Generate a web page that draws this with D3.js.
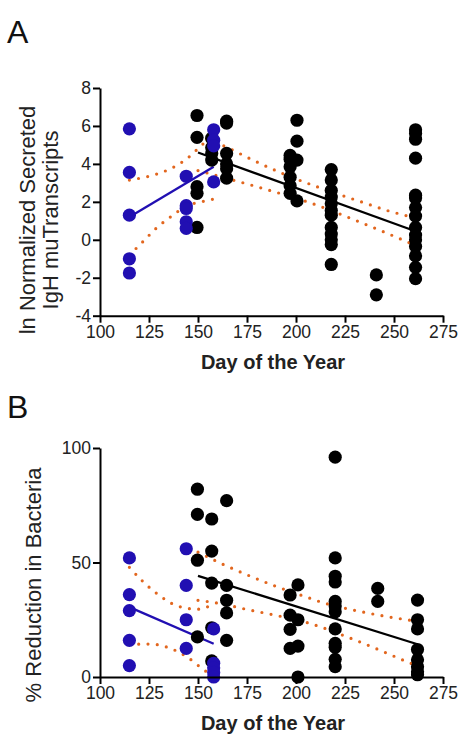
<!DOCTYPE html>
<html lang="en">
<head>
<meta charset="UTF-8" />
<title>IgH mu transcripts and bacterial killing by day of the year</title>
<script src="https://d3js.org/d3.v7.min.js"></script>
<style>
  body { margin: 0; background: #fff; }
  svg { display: block; font-family: Arial, "Liberation Sans", sans-serif; }
</style>
</head>
<body>
<svg id="chart" width="460" height="737"></svg>
<script>
const xTicks = [100, 125, 150, 175, 200, 225, 250, 275];
const aTicks = [-4, -2, 0, 2, 4, 6, 8];
const bTicks = [0, 50, 100];

// panel A: ln normalized secreted IgH mu transcripts
const aBlueDays = [115, 144, 158];
const aBlueVals = [
  [5.85, 3.55, 1.3, -1.0, -1.75],
  [3.35, 1.8, 1.65, 0.95, 0.6],
  [5.8, 5.25, 4.95, 3.05]
];
const aBlackDays = [149.5, 157, 164.6, 197, 200.5, 218, 241, 261];
const aBlackVals = [
  [6.55, 5.4, 2.8, 2.45, 0.65],
  [5.35, 4.85, 4.55, 4.2],
  [6.25, 6.15, 4.55, 4.0, 3.75, 3.25],
  [4.45, 4.25, 3.85, 3.3, 2.85, 2.45],
  [6.3, 5.2, 4.2, 2.05],
  [3.7, 3.15, 2.6, 2.25, 1.9, 1.55, 1.3, 0.65, 0.3, 0.0, -0.25, -1.3],
  [-1.85, -2.9],
  [5.8, 5.6, 5.3, 4.3, 2.35, 2.2, 1.7, 1.25, 0.65, 0.25, 0.0, -0.35, -0.85, -1.45, -2.05]
];
const aBlueFit = [[115, 1.2], [158, 3.85]];
const aBlackFit = [[150, 4.6], [261, 0.45]];
const aBlueUpper = [[115, 3.15], [125, 3.35], [135, 3.7], [144, 4.25], [152, 5.0], [158, 5.55]];
const aBlueLower = [[115, -0.8], [121.6, -0.13], [129, 0.64], [137.4, 1.31], [144, 1.78], [152, 2.01], [158, 2.15]];
const aBlackUpper = [[150, 5.5], [164.6, 4.88], [178, 4.2], [193, 3.5], [212, 2.75], [233, 2.01], [248, 1.5], [261, 1.15]];
const aBlackLower = [[150, 3.65], [164.6, 3.24], [180, 2.8], [190, 2.5], [210.6, 1.83], [230, 1.04], [244.5, 0.43], [261, -0.3]];

// panel B: % reduction in bacteria
const bBlueDays = [115, 144, 158];
const bBlueVals = [
  [52, 36, 29, 16, 5],
  [56, 40, 25, 12.5],
  [21, 6, 4, 2, 0]
];
const bBlackDays = [149.7, 157, 164.6, 197, 201, 220, 241.7, 262];
const bBlackVals = [
  [82, 71, 51, 17.5],
  [69, 55, 41, 21.5, 7],
  [77, 40, 33.5, 28, 16],
  [35.8, 27, 20.8, 12.5],
  [40.2, 25, 13.5, 0],
  [96, 52, 44, 41.5, 33, 31, 28.5, 21, 14.7, 13, 7.7, 4.5],
  [38.7, 33],
  [33.6, 25, 21, 12, 7.5, 4.5, 2.3, 1]
];
const bBlueFit = [[115, 30.5], [158, 14.5]];
const bBlackFit = [[150, 44.2], [262, 14.3]];
const bBlueUpper = [[115, 47.9], [122, 41.6], [130, 35.8], [139.6, 31], [150, 29.6], [158, 32]];
const bBlueLower = [[115, 14.2], [125, 14.4], [135, 12.8], [144.7, 8.6], [153, 3.1], [157, 0.8]];
const bBlackUpper = [[150, 54.5], [164.3, 48.6], [174, 45], [188.8, 39.9], [203.7, 35.4], [214, 32.4], [229, 29.3], [245, 26.6], [262, 24.3]];
const bBlackLower = [[150, 33.5], [160.4, 32.2], [176, 29.3], [191.5, 26.6], [207, 23.4], [227, 17.2], [241.7, 12.1], [256.5, 6.7], [262, 4.8]];

const blue = '#210fb2', orange = '#e2661e';
const svg = d3.select('#chart');
const x = d3.scaleLinear().domain([100, 275]).range([100, 443]);

function points(days, vals) {
  return days.flatMap((d, i) => vals[i].map(v => ({ day: d, v: v })));
}

function drawPanel(p) {
  const y = p.y;
  const g = svg.append('g');
  const line = d3.line().x(d => x(d[0])).y(d => y(d[1]));
  const curve = d3.line().x(d => x(d[0])).y(d => y(d[1])).curve(d3.curveMonotoneX);

  // confidence bands, dotted
  [p.blueUpper, p.blueLower, p.blackUpper, p.blackLower].forEach(c => {
    g.append('path').attr('d', curve(c)).attr('fill', 'none')
      .attr('stroke', orange).attr('stroke-width', 3.2)
      .attr('stroke-linecap', 'round').attr('stroke-dasharray', '0,9.3');
  });
  g.append('path').attr('d', line(p.blueFit)).attr('stroke', blue).attr('stroke-width', 2.3);
  g.append('path').attr('d', line(p.blackFit)).attr('stroke', '#000').attr('stroke-width', 2.3);

  g.selectAll('.blk').data(points(p.blackDays, p.blackVals)).join('circle')
    .attr('cx', d => x(d.day)).attr('cy', d => y(d.v)).attr('r', 6.6).attr('fill', '#000');
  g.selectAll('.blu').data(points(p.blueDays, p.blueVals)).join('circle')
    .attr('cx', d => x(d.day)).attr('cy', d => y(d.v)).attr('r', 6.6).attr('fill', blue);

  const xa = g.append('g').attr('transform', `translate(0,${y.range()[0]})`)
    .call(d3.axisBottom(x).tickValues(xTicks).tickSize(7).tickSizeOuter(0).tickPadding(3));
  const ya = g.append('g').attr('transform', 'translate(100,0)')
    .call(d3.axisLeft(y).tickValues(p.ticks).tickFormat(d => String(d)).tickSize(7).tickSizeOuter(0).tickPadding(2));
  [xa, ya].forEach(a => {
    a.selectAll('path, line').attr('stroke', '#000').attr('stroke-width', 2);
    a.selectAll('text').attr('font-size', 17.5).attr('fill', '#222')
      .attr('font-family', 'Arial, "Liberation Sans", sans-serif');
  });

  g.append('text').attr('x', 273).attr('y', y.range()[0] + 53)
    .attr('text-anchor', 'middle').attr('font-size', 20).attr('font-weight', 'bold').attr('fill', '#222')
    .text('Day of the Year');

  g.append('text').attr('x', 7).attr('y', p.letterY).attr('font-size', 32).attr('fill', '#111').text(p.letter);

  const t = g.append('text').attr('transform', `translate(0,${p.titleY}) rotate(-90)`)
    .attr('text-anchor', 'middle').attr('font-size', 22).attr('fill', '#222');
  p.title.forEach((s, i) => t.append('tspan').attr('x', 0).attr('y', p.titleX[i]).text(s));
}

drawPanel({
  y: d3.scaleLinear().domain([-4, 8]).range([315.7, 88]),
  ticks: aTicks, letter: 'A', letterY: 43,
  title: ['ln Normalized  Secreted', 'IgH muTranscripts'], titleX: [35, 58], titleY: 220,
  blueDays: aBlueDays, blueVals: aBlueVals, blackDays: aBlackDays, blackVals: aBlackVals,
  blueFit: aBlueFit, blackFit: aBlackFit,
  blueUpper: aBlueUpper, blueLower: aBlueLower, blackUpper: aBlackUpper, blackLower: aBlackLower
});

drawPanel({
  y: d3.scaleLinear().domain([0, 100]).range([677, 448]),
  ticks: bTicks, letter: 'B', letterY: 418,
  title: ['% Reduction  in Bacteria'], titleX: [41], titleY: 585,
  blueDays: bBlueDays, blueVals: bBlueVals, blackDays: bBlackDays, blackVals: bBlackVals,
  blueFit: bBlueFit, blackFit: bBlackFit,
  blueUpper: bBlueUpper, blueLower: bBlueLower, blackUpper: bBlackUpper, blackLower: bBlackLower
});
</script>
</body>
</html>
